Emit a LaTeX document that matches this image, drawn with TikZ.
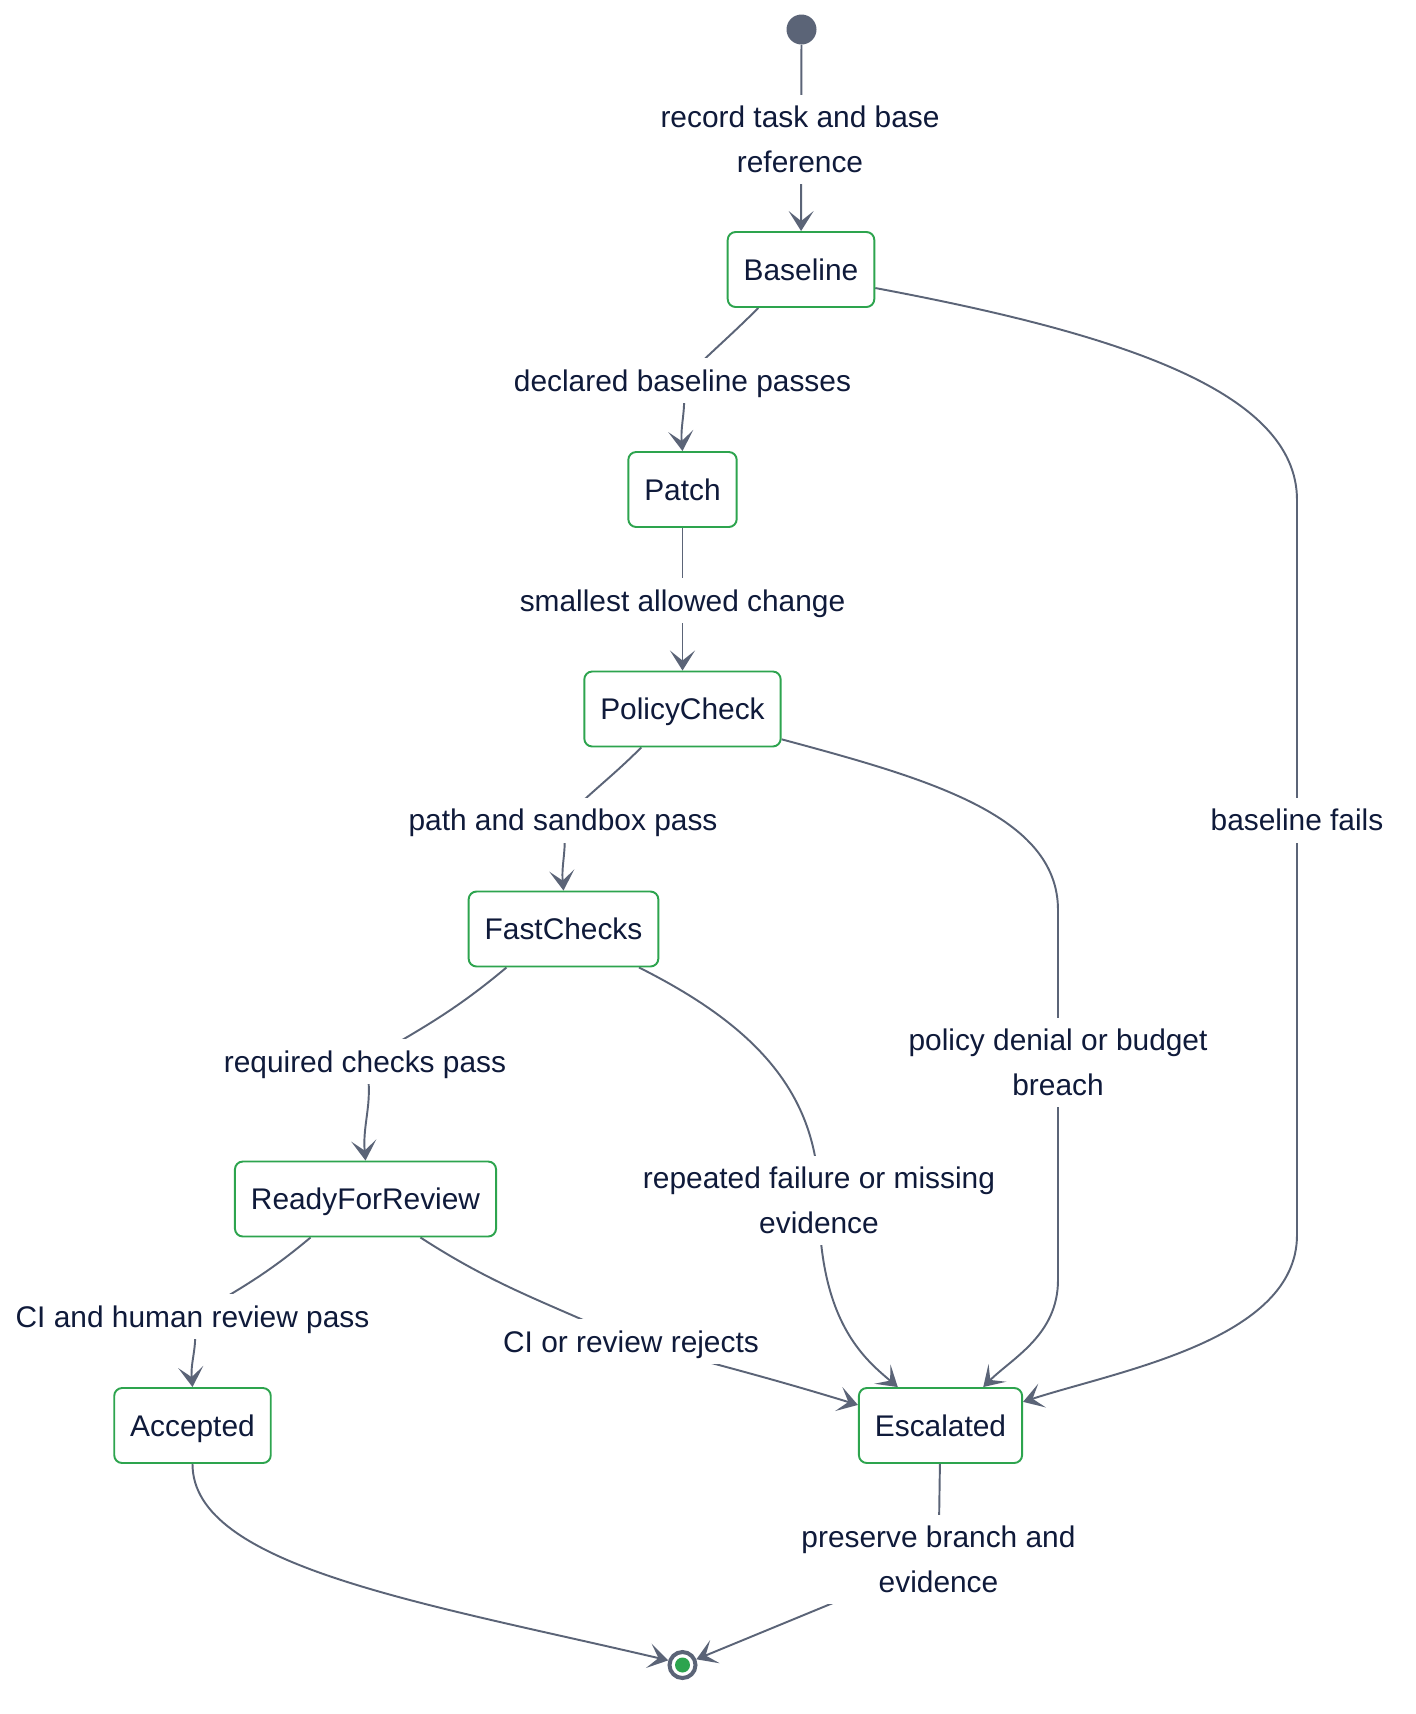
\documentclass[tikz,border=0pt]{standalone}
\usepackage{fontspec}
\setmainfont{Liberation Sans}
\usetikzlibrary{arrows.meta, backgrounds}
\definecolor{cgreen}{HTML}{2DA44E}
\definecolor{cedge}{HTML}{5B6477}
\definecolor{ctext}{HTML}{0F1A3A}
\newcommand{\lblstrut}{\rule[-0.24cm]{0pt}{0.9cm}}
\tikzset{
  every picture/.style={font=\fontsize{17}{25.5}\selectfont, text=ctext},
  state/.style={draw=cgreen, fill=white, rounded corners=4.5pt, line width=1.1pt, inner xsep=0.32cm, minimum height=1.5cm,
    execute at begin node=\lblstrut},
  lbl/.style={fill=white, align=center, inner sep=0pt, execute at begin node=\lblstrut, execute at end node=\lblstrut},
  edge/.style={draw=cedge, line width=1.1pt, -{Stealth[length=4mm, width=5mm, inset=2mm]}},
  startdot/.style={circle, fill=cedge, minimum size=0.6cm, inner sep=0pt},
  enddot/.style={circle, draw=cedge, line width=0.08cm, fill=white, minimum size=0.52cm, inner sep=0pt,
    path picture={\fill[cgreen] (path picture bounding box.center) circle (0.15cm);}},
}

\begin{document}
\begin{tikzpicture}
  \useasboundingbox (0,0) rectangle (28.32,-34.28);
  % states
  \node[startdot] (init) at (16.03,-0.59) {};
  \node[state] (baseline) at (16.02,-5.39) {Baseline};
  \node[state] (patch) at (13.65,-9.79) {Patch};
  \node[state] (policy) at (13.65,-14.18) {PolicyCheck};
  \node[state] (fast) at (11.27,-18.58) {FastChecks};
  \node[state] (ready) at (7.31,-23.98) {ReadyForReview};
  \node[state] (accepted) at (3.85,-28.51) {Accepted};
  \node[state] (escalated) at (18.81,-28.51) {Escalated};
  \node[enddot] (final) at (13.65,-33.3) {};
  % transition labels
  \node[lbl] (lrecord) at (16.0,-2.79) {\lblstrut record task and base\\reference};
  \node[lbl] (ldeclared) at (13.65,-7.61) {declared baseline passes};
  \node[lbl] (lsmallest) at (13.65,-12.01) {smallest allowed change};
  \node[lbl] (lpath) at (11.26,-16.4) {path and sandbox pass};
  \node[lbl] (lrequired) at (7.3,-21.23) {required checks pass};
  \node[lbl] (lhuman) at (3.85,-26.33) {CI and human review pass};
  \node[lbl] (lrejects) at (12.62,-26.83) {CI or review rejects};
  \node[lbl] (lrepeated) at (16.38,-24.01) {\lblstrut repeated failure or missing\\evidence};
  \node[lbl] (ldenial) at (21.16,-21.25) {\lblstrut policy denial or budget\\breach};
  \node[lbl] (lfails) at (25.94,-16.4) {baseline fails};
  \node[lbl] (lpreserve) at (18.77,-31.19) {\lblstrut preserve branch and\\evidence};
  % transitions
  \begin{scope}[on background layer]
    \draw[edge] (init) -- (baseline);
    \draw[edge] (baseline.-138) to[out=-135, in=45] (ldeclared.center) to[out=-80, in=95] (patch.north);
    \draw[edge] (patch) -- (policy);
    \draw[edge] (policy.-137) to[out=-135, in=45] (lpath.center) to[out=-80, in=95] (fast.north);
    \draw[edge] (fast.-146) to[out=-140, in=30] (lrequired.center) to[out=-75, in=95] (ready.north);
    \draw[edge] (ready.-145) to[out=-140, in=30] (lhuman.center) to[out=-75, in=95] (accepted.north);
    \draw[edge] (ready.-35) to[out=-33, in=155] (lrejects.center) to[out=-15, in=163] (escalated.166);
    \draw[edge] (fast.-27) .. controls +(2.25,-1.13) and +(0,2.2) .. (lrepeated.center)
      .. controls +(0,-2.4) and +(-0.69,0.58) .. (escalated.138);
    \draw[edge] (policy.-17) .. controls +(2.9,-0.78) and +(0,1.9) .. (21.16,-18.2) -- (ldenial.center)
      -- (21.16,-25.6) .. controls +(0,-1.1) and +(0.58,0.58) .. (escalated.42);
    \draw[edge] (baseline.-14) .. controls +(4.8,-0.9) and +(0,2.2) .. (25.94,-10.0) -- (lfails.center)
      -- (25.94,-24.7) .. controls +(0,-2.1) and +(1.9,0.62) .. (escalated.16);
    \draw[edge] (accepted.south) .. controls +(0,-2.05) and +(-4.9,1.15) .. (final.162);
    \draw[edge] (escalated) -- (lpreserve.center) -- (final);
  \end{scope}
\end{tikzpicture}
\end{document}
